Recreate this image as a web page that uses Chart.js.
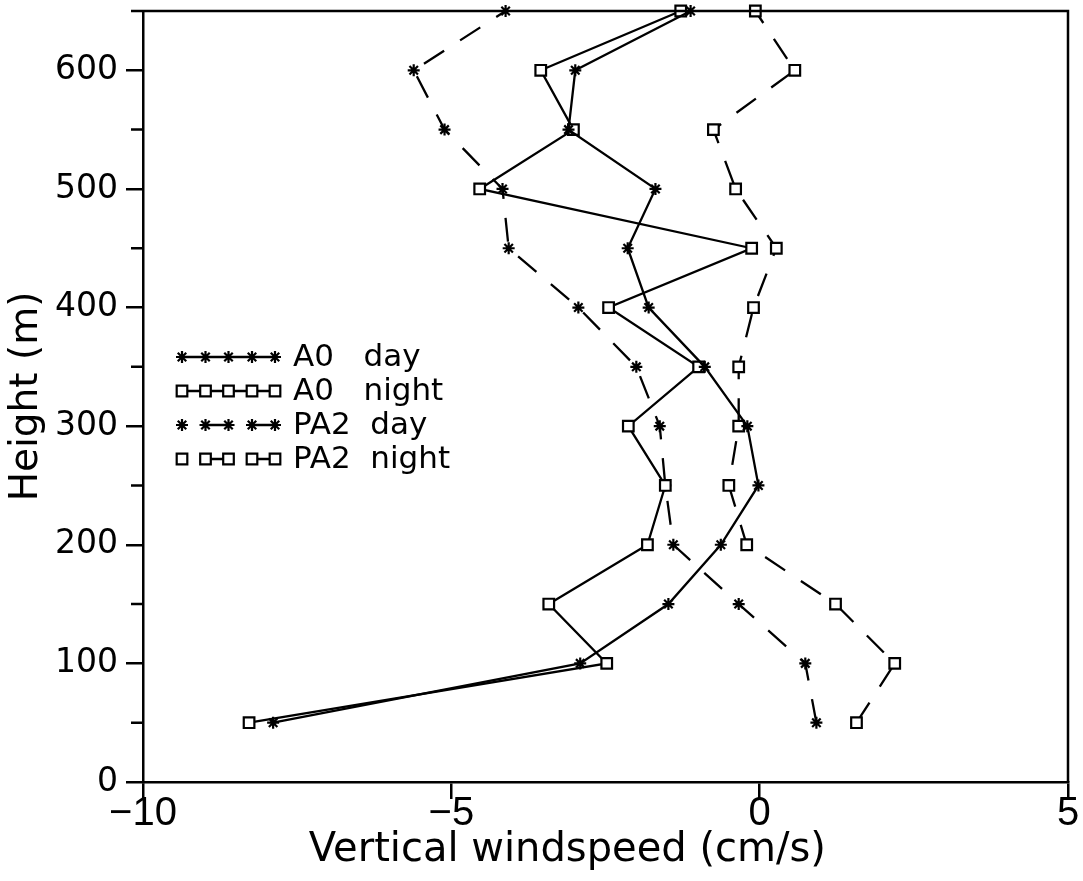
<!DOCTYPE html>
<html>
<head>
<meta charset="utf-8">
<script src="https://cdn.jsdelivr.net/npm/chart.js@4/dist/chart.umd.min.js"></script>
<style>
html,body{margin:0;padding:0;background:#fff;}
#wrap{width:1083px;height:881px;position:relative;}
</style>
</head>
<body>
<div id="wrap"><canvas id="c"></canvas></div>
<script>
// ---- data (heights in m, vertical windspeed in cm/s) ----
const heights   = [50, 100, 150, 200, 250, 300, 350, 400, 450, 500, 550, 600, 650];
const a0Day     = [-7.89, -2.91, -1.48, -0.63, -0.02, -0.20, -0.89, -1.80, -2.14, -1.69, -3.10, -2.99, -1.12];
const a0Night   = [-8.28, -2.48, -3.42, -1.82, -1.53, -2.13, -0.99, -2.45, -0.13, -4.54, -3.02, -3.55, -1.28];
const pa2Day    = [0.92, 0.74, -0.34, -1.40, -1.53, -1.62, -2.00, -2.94, -4.07, -4.17, -5.11, -5.61, -4.12];
const pa2Night  = [1.57, 2.19, 1.23, -0.21, -0.50, -0.34, -0.34, -0.10, 0.27, -0.39, -0.75, 0.57, -0.07];
const seriesNames = ['A0   day', 'A0   night', 'PA2  day', 'PA2  night'];
const xTickValues = [-10, -5, 0, 5];
const yTickValues = [0, 100, 200, 300, 400, 500, 600];
const yMinorTickValues = [50, 150, 250, 350, 450, 550, 650];

const FONT = 'DejaVu Sans';
const pts = vals => vals.map((v, i) => ({x: v, y: heights[i]}));

function ds(label, vals, style, dashed) {
  const isRect = style === 'rect';
  return {
    label, data: pts(vals), showLine: true,
    borderColor: '#000', borderWidth: 2.3,
    borderDash: dashed ? [24, 19] : [],
    pointStyle: style, pointRadius: isRect ? 7.5 : 6,
    pointBorderWidth: 2.2, pointBorderColor: '#000',
    pointBackgroundColor: isRect ? '#fff' : '#000',
    pointHoverRadius: isRect ? 7.5 : 6,
    clip: false, tension: 0
  };
}

const datasets = [
  ds(seriesNames[0], a0Day, 'star', false),
  ds(seriesNames[1], a0Night, 'rect', false),
  ds(seriesNames[2], pa2Day, 'star', true),
  ds(seriesNames[3], pa2Night, 'rect', true)
];

const framePlugin = {
  id: 'frame',
  afterDraw(chart) {
    const {ctx, chartArea: a, scales: {y}} = chart;
    ctx.save();
    ctx.strokeStyle = '#000';
    ctx.lineWidth = 2.5;
    ctx.beginPath();
    ctx.moveTo(a.left, a.top); ctx.lineTo(a.right, a.top); ctx.lineTo(a.right, a.bottom);
    yMinorTickValues.forEach(v => {
      const py = y.getPixelForValue(v);
      ctx.moveTo(a.left - 12, py); ctx.lineTo(a.left, py);
    });
    ctx.stroke();
    ctx.restore();
  }
};

function drawMarker(ctx, style, x, y) {
  const r = style === 'rect' ? 7.5 : 6;
  ctx.fillStyle = style === 'rect' ? '#fff' : '#000';
  ctx.lineWidth = 2.2;
  if (Chart.helpers && Chart.helpers.drawPoint) {
    Chart.helpers.drawPoint(ctx, {pointStyle: style, rotation: 0, radius: r, borderWidth: 2.2}, x, y);
  } else {
    ctx.beginPath();
    if (style === 'rect') { const s = r * Math.SQRT1_2; ctx.rect(x - s, y - s, 2 * s, 2 * s); ctx.fill(); }
    else { for (let k = 0; k < 4; k++) { const t = k * Math.PI / 4; ctx.moveTo(x - r * Math.cos(t), y - r * Math.sin(t)); ctx.lineTo(x + r * Math.cos(t), y + r * Math.sin(t)); } }
    ctx.stroke();
  }
}

const legendPlugin = {
  id: 'customLegend',
  afterDraw(chart) {
    const ctx = chart.ctx;
    const mx = [182, 205.5, 228.5, 252, 275];
    const rowY = [357, 391, 425, 459];
    ctx.save();
    ctx.strokeStyle = '#000';
    chart.data.datasets.forEach((d, i) => {
      const y = rowY[i];
      const dashed = d.borderDash && d.borderDash.length > 0;
      ctx.lineWidth = 2.3;
      ctx.beginPath();
      if (!dashed) { ctx.moveTo(mx[0], y); ctx.lineTo(mx[4], y); }
      else { ctx.moveTo(mx[1], y); ctx.lineTo(mx[2], y); ctx.moveTo(mx[3], y); ctx.lineTo(mx[4], y); }
      ctx.stroke();
      mx.forEach(x => drawMarker(ctx, d.pointStyle, x, y));
      ctx.fillStyle = '#000';
      ctx.font = '31px "' + FONT + '"';
      ctx.textBaseline = 'middle';
      ctx.textAlign = 'left';
      ctx.fillText(d.label, 293, y + 1);
    });
    ctx.restore();
  }
};

new Chart(document.getElementById('c'), {
  type: 'scatter',
  data: {datasets},
  plugins: [framePlugin, legendPlugin],
  options: {
    responsive: true, maintainAspectRatio: false, animation: false,
    layout: {padding: {top: 11, right: 15, left: 0, bottom: 0}},
    plugins: {legend: {display: false}, tooltip: {enabled: false}},
    scales: {
      x: {
        type: 'linear', min: -10, max: 5,
        afterBuildTicks: s => { s.ticks = xTickValues.map(v => ({value: v})); },
        ticks: {
          font: {family: 'Liberation Sans', size: 40, lineHeight: 1.0}, color: '#000', padding: -5,
          maxRotation: 0, autoSkip: false,
          callback: v => String(v).replace('-', '\u2212')
        },
        grid: {drawOnChartArea: false, drawTicks: true, tickLength: 17, color: '#000', lineWidth: 2.5},
        border: {color: '#000', width: 2.5},
        title: {display: true, text: 'Vertical windspeed (cm/s)\u00A0\u00A0\u00A0\u00A0\u00A0\u00A0', color: '#000',
                font: {family: FONT, size: 40}, padding: {top: 0, bottom: 6}},
        afterFit: s => { s.height = 99; s.paddingLeft = 0; s.paddingRight = 0; }
      },
      y: {
        type: 'linear', min: 0, max: 650,
        afterBuildTicks: s => { s.ticks = yTickValues.map(v => ({value: v})); },
        ticks: {font: {family: FONT, size: 33}, color: '#000', padding: 8, autoSkip: false},
        grid: {drawOnChartArea: false, drawTicks: true, tickLength: 17, color: '#000', lineWidth: 2.5},
        border: {color: '#000', width: 2.5},
        title: {display: true, text: 'Height (m)', color: '#000',
                font: {family: FONT, size: 39}, padding: {top: 3, bottom: 0}},
        afterFit: s => { s.width = 143; s.paddingTop = 0; s.paddingBottom = 0; }
      }
    }
  }
});
</script>
</body>
</html>
